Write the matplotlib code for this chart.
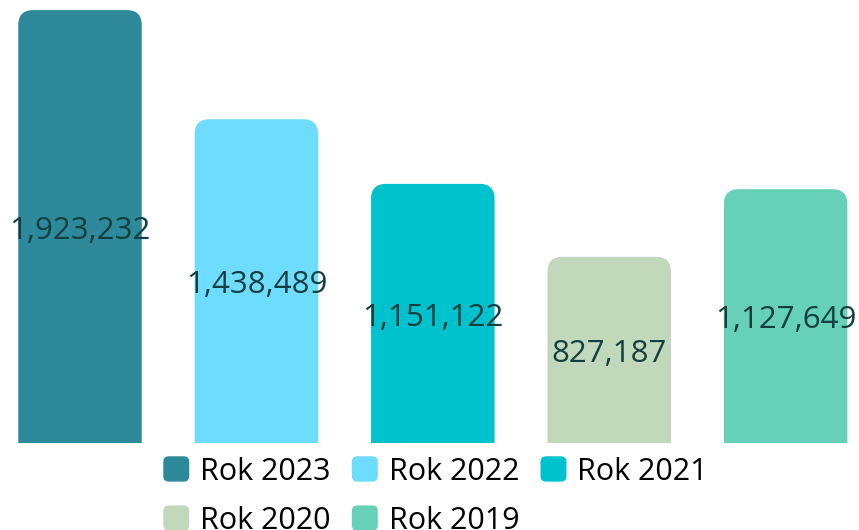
import matplotlib.pyplot as plt
from matplotlib.patches import FancyBboxPatch, Patch
from matplotlib.legend_handler import HandlerPatch

plt.rcParams['font.family'] = ['Open Sans', 'DejaVu Sans']

# data
labels = ['Rok 2023', 'Rok 2022', 'Rok 2021', 'Rok 2020', 'Rok 2019']
values = [1923232, 1438489, 1151122, 827187, 1127649]
colors = ['#2e8a9a', '#6edcff', '#00c2cc', '#c2d8ba', '#66d0b9']

fig = plt.figure(figsize=(8.59, 5.30), dpi=100)
ax = fig.add_axes([0, 87 / 530, 1, 443 / 530])
ax.set_xlim(-0.4535, 4.416)
ax.set_ylim(0, 1968000)
ax.axis('off')

# data units per pixel, to keep the corners round
bbox = ax.get_window_extent()
xpp = (4.416 + 0.4535) / bbox.width
ypp = 1968000 / bbox.height
aspect = ypp / xpp

width = 0.70
r = 15 * xpp
for i, (v, c) in enumerate(zip(values, colors)):
    extra = 20 * ypp
    p = FancyBboxPatch((i - width / 2, -extra), width, v + extra,
                       boxstyle=f'round,pad=0,rounding_size={r}',
                       mutation_aspect=aspect, facecolor=c, edgecolor='none')
    ax.add_patch(p)
    ax.annotate(f'{v:,}', (i, v / 2), xytext=(0, -3), textcoords='offset points',
                ha='center', va='center', fontsize=22.5, color='#133f40')


class RoundHandler(HandlerPatch):
    def create_artists(self, legend, orig_handle, xdescent, ydescent,
                       width, height, fontsize, trans):
        p = FancyBboxPatch((-xdescent, -ydescent), width, height,
                           boxstyle='round,pad=0,rounding_size=4',
                           facecolor=orig_handle.get_facecolor(),
                           edgecolor='none', transform=trans)
        return [p]


handles = [Patch(facecolor=c, label=l) for c, l in zip(colors, labels)]
# legend fills by column, so put them in row order
order = [0, 3, 1, 4, 2]
fig.legend(handles=[handles[k] for k in order], ncol=3, loc='upper left',
           bbox_to_anchor=(148 / 859, 1 - 441 / 530), frameon=False,
           fontsize=22, handlelength=0.85, handleheight=0.9,
           handletextpad=0.35, columnspacing=0.7, labelspacing=0.62,
           borderpad=0, handler_map={Patch: RoundHandler()})

fig.savefig('out.png', dpi=100, facecolor='white')
